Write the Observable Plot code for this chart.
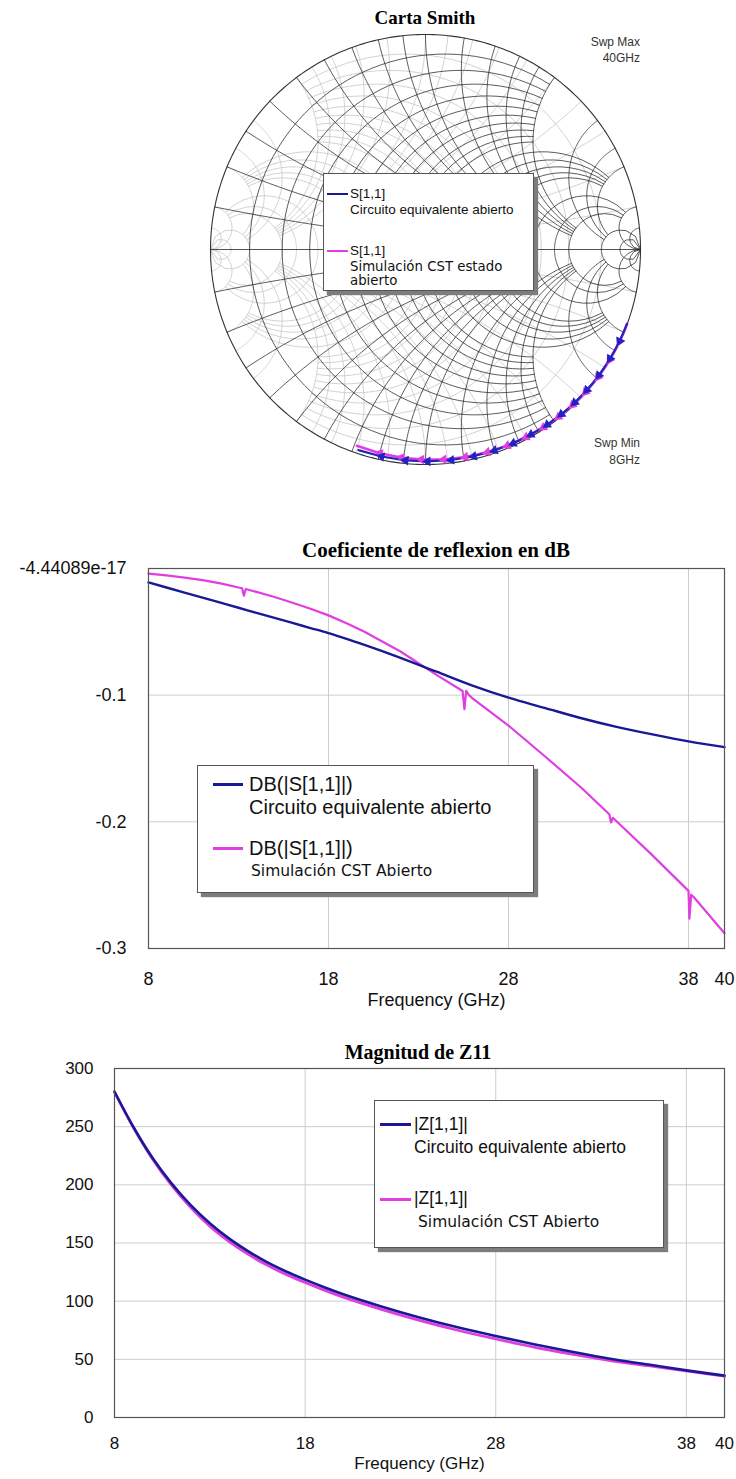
<!DOCTYPE html>
<html>
<head>
<meta charset="utf-8">
<script src="https://cdn.jsdelivr.net/npm/d3@7"></script>
<script src="https://cdn.jsdelivr.net/npm/@observablehq/plot@0.6"></script>
<style>
  html, body { margin: 0; padding: 0; background: #fff; }
  #page { position: relative; width: 736px; height: 1479px; overflow: hidden; background: #fff; }
  .abs { position: absolute; white-space: nowrap; line-height: 1; }
  .legend { position: absolute; background: #fff; border: 1px solid #555; box-shadow: 4px 4px 1px #7d7d7d; }
  .swatch { position: absolute; height: 3px; }
  svg { overflow: visible; }
</style>
</head>
<body>
<div id="page"></div>
<script>
// ---- Sweep data (GHz) --------------------------------------------------
const freqGHz = [8, 9, 10, 11, 12, 13, 14, 15, 16, 17, 18, 19, 20, 22, 24, 26, 28, 30, 32, 34, 36, 38, 40];

// |S11| in dB
const dbCircuito = [-0.011, -0.015, -0.019, -0.023, -0.027, -0.031, -0.035, -0.039, -0.043, -0.047, -0.051, -0.0555, -0.0603,
                    -0.0705, -0.0815, -0.0925, -0.102, -0.110, -0.118, -0.125, -0.131, -0.1365, -0.141];
const dbCST = [-0.004, -0.0055, -0.0072, -0.0092, -0.0118, -0.015, -0.0185, -0.0225, -0.027, -0.0318, -0.037, -0.0432, -0.05,
               -0.0655, -0.084, -0.1025, -0.124, -0.148, -0.1725, -0.1995, -0.2265, -0.2545, -0.288];
// resonance notches in the CST sweep
const notchFreqGHz = [13.2, 13.3, 13.4, 25.45, 25.55, 25.65, 25.8, 33.6, 33.7, 33.8, 37.9, 38.05, 38.15, 38.3];
const notchDb = [-0.0156, -0.0215, -0.0162, -0.0967, -0.111, -0.0965, -0.0999, -0.194, -0.2005, -0.1968, -0.2531, -0.2765, -0.2575, -0.2596];

// |Z11| in ohms
const zCircuito = [280, 249.5, 223, 201, 182.5, 167, 154, 143, 133.5, 125.5, 118.5, 112, 106, 95.5, 86, 77.5, 70, 63, 56.5, 50.5, 45.5, 40.5, 36];
const zCST = [280, 249, 222, 199.5, 180.5, 164.5, 151.5, 140.5, 131, 123, 116, 109.5, 103.5, 93, 83.5, 75, 67.5, 60.5, 54.5, 49, 44.5, 40, 35.5];

// ---- Axes -----------------------------------------------------------------
const freqTicks = [8, 18, 28, 38, 40];
const freqGrid = [18, 28, 38];
const dbTickLabels = ["-4.44089e-17", "-0.1", "-0.2", "-0.3"];
const dbGrid = [-0.1, -0.2];
const zTicks = [0, 50, 100, 150, 200, 250, 300];
const zGrid = [50, 100, 150, 200, 250];

// Smith chart grid values (constant resistance / reactance)
const smithResistances = [0.1, 0.2, 0.3, 0.4, 0.5, 0.6, 0.7, 0.8, 0.9, 1, 1.2, 1.4, 1.6, 1.8, 2, 3, 4, 5, 10, 20];
const smithReactances = [0.1, 0.2, 0.3, 0.4, 0.5, 0.6, 0.7, 0.8, 0.9, 1, 1.2, 1.4, 1.6, 1.8, 2, 3, 4, 5, 10, 20];

const Z0 = 50;
const BLUE = "#191996";
const SMITH_BLUE = "#2222c4";
const MAGENTA = "#e03ee0";
const SANS = "'Liberation Sans', Arial, sans-serif";
const VERDANA = "'DejaVu Sans', Verdana, sans-serif";
const SERIF = "'Liberation Serif', 'Times New Roman', serif";

const page = document.getElementById("page");

function text(str, x, y, opts = {}) {
  const d = document.createElement("div");
  d.className = "abs";
  d.textContent = str;
  const align = opts.align || "left";
  const tx = align === "center" ? "-50%" : align === "right" ? "-100%" : "0";
  d.style.left = x + "px";
  d.style.top = y + "px";
  d.style.transform = `translate(${tx}, -50%)`;
  d.style.fontFamily = opts.font || SANS;
  d.style.fontSize = (opts.size || 14) + "px";
  d.style.fontWeight = opts.weight || "normal";
  d.style.color = opts.color || "#000";
  page.appendChild(d);
  return d;
}

function holder(left, top) {
  const d = document.createElement("div");
  d.style.position = "absolute";
  d.style.left = left + "px";
  d.style.top = top + "px";
  page.appendChild(d);
  return d;
}

function legendBox(left, top, width, height) {
  const d = document.createElement("div");
  d.className = "legend";
  d.style.left = left + "px";
  d.style.top = top + "px";
  d.style.width = width + "px";
  d.style.height = height + "px";
  page.appendChild(d);
}

function swatch(x1, x2, y, color, h = 3) {
  const d = document.createElement("div");
  d.className = "swatch";
  d.style.left = x1 + "px";
  d.style.width = (x2 - x1) + "px";
  d.style.top = (y - h / 2) + "px";
  d.style.height = h + "px";
  d.style.background = color;
  page.appendChild(d);
}

// ---- Smith chart ---------------------------------------------------------
function toGamma(r, x) {
  const d = (r + 1) * (r + 1) + x * x;
  return [(r * r + x * x - 1) / d, 2 * x / d];
}
// how far each grid line runs before it stops on a coarser line
function reach(v) { return v <= 1 ? 2 : v <= 2 ? 5 : v <= 5 ? 10 : 1e4; }

const N = 90;
const impedanceGrid = [];
for (const r of smithResistances) {
  const um = Math.atan(reach(r));
  for (let k = 0; k <= N; k++) {
    const [re, im] = toGamma(r, Math.tan(-um + 2 * um * k / N));
    impedanceGrid.push({id: "r" + r, re, im});
  }
}
for (const xv of smithReactances) {
  for (const s of [1, -1]) {
    const um = Math.atan(reach(xv));
    for (let k = 0; k <= N; k++) {
      const [re, im] = toGamma(Math.tan(um * k / N), s * xv);
      impedanceGrid.push({id: "x" + s * xv, re, im});
    }
  }
}
const admittanceGrid = impedanceGrid.map(p => ({id: p.id, re: -p.re, im: -p.im}));
const rim = d3.range(0, 361, 1).map(a => ({re: Math.cos(a * Math.PI / 180), im: Math.sin(a * Math.PI / 180)}));
const realAxis = [{re: -1, im: 0}, {re: 1, im: 0}];

// reflection coefficient of the open stub: capacitive reactance -|Z11|
function trace(zMag, db) {
  return freqGHz.map((f, i) => {
    const ang = -Math.PI + 2 * Math.atan(zMag[i] / Z0);
    const mag = Math.pow(10, db[i] / 20);
    return {f, re: mag * Math.cos(ang), im: mag * Math.sin(ang)};
  });
}
function arrows(tr) {
  const out = [];
  for (let i = 1; i < tr.length - 1; i++) {
    if (tr[i].f % 2 !== 0) continue;
    const dx = tr[i + 1].re - tr[i - 1].re, dy = tr[i + 1].im - tr[i - 1].im;
    out.push({re: tr[i].re, im: tr[i].im, rot: Math.atan2(dx, dy) * 180 / Math.PI});
  }
  return out;
}
const smithCircuito = trace(zCircuito, dbCircuito);
const smithCST = trace(zCST, dbCST);

const smith = Plot.plot({
  width: 440, height: 440, margin: 5,
  x: {domain: [-1, 1], axis: null, label: null},
  y: {domain: [-1, 1], axis: null, label: null},
  style: {background: "transparent", overflow: "visible"},
  marks: [
    Plot.line(admittanceGrid, {x: "re", y: "im", z: "id", stroke: "#c6c6c6", strokeWidth: 0.8}),
    Plot.line(impedanceGrid, {x: "re", y: "im", z: "id", stroke: "#262626", strokeWidth: 0.75}),
    Plot.line(realAxis, {x: "re", y: "im", stroke: "#262626", strokeWidth: 0.8}),
    Plot.line(rim, {x: "re", y: "im", stroke: "#333", strokeWidth: 1.1}),
    Plot.line(smithCST, {x: "re", y: "im", stroke: MAGENTA, strokeWidth: 2.6}),
    Plot.line(smithCircuito, {x: "re", y: "im", stroke: SMITH_BLUE, strokeWidth: 2.2}),
    Plot.dot(arrows(smithCST), {x: "re", y: "im", rotate: "rot", symbol: "triangle", r: 3.6, fill: MAGENTA, stroke: "none"}),
    Plot.dot(arrows(smithCircuito), {x: "re", y: "im", rotate: "rot", symbol: "triangle", r: 3.6, fill: SMITH_BLUE, stroke: "none"})
  ]
});
holder(205, 29).appendChild(smith);

text("Carta Smith", 425, 17, {font: SERIF, size: 19, weight: "bold", align: "center"});
text("Swp Max", 640, 42, {size: 12, color: "#333", align: "right"});
text("40GHz", 640, 58, {size: 12, color: "#333", align: "right"});
text("Swp Min", 640, 443, {size: 12, color: "#333", align: "right"});
text("8GHz", 640, 460, {size: 12, color: "#333", align: "right"});

legendBox(323, 173, 209, 116);
swatch(327, 348, 194, BLUE, 2.5);
text("S[1,1]", 350, 194, {size: 13.5, color: "#111"});
text("Circuito equivalente abierto", 350, 210, {size: 13.5, color: "#111"});
swatch(327, 348, 251, MAGENTA, 2.5);
text("S[1,1]", 350, 251, {size: 13.5, color: "#111"});
text("Simulación CST estado", 350, 267, {font: VERDANA, size: 13.3, color: "#111"});
text("abierto", 350, 281, {font: VERDANA, size: 13.3, color: "#111"});

// ---- Reflection coefficient in dB ------------------------------------------
const circDbData = freqGHz.map((f, i) => ({f, v: dbCircuito[i]}));
const cstDbData = freqGHz.map((f, i) => ({f, v: dbCST[i]}))
  .concat(notchFreqGHz.map((f, i) => ({f, v: notchDb[i]})))
  .sort((a, b) => a.f - b.f);
const dbTicks = dbTickLabels.map(Number);

const dbPlot = Plot.plot({
  width: 736, height: 28 + 380 + 72,
  marginLeft: 148, marginRight: 12, marginTop: 28, marginBottom: 72,
  style: {fontFamily: SANS, fontSize: "18px", color: "#111", background: "transparent", overflow: "visible"},
  x: {domain: [8, 40], label: null},
  y: {domain: [-0.3, 0], label: null},
  marks: [
    Plot.gridX(freqGrid, {stroke: "#cdcdcd", strokeOpacity: 1}),
    Plot.gridY(dbGrid, {stroke: "#cdcdcd", strokeOpacity: 1}),
    Plot.line(cstDbData, {x: "f", y: "v", stroke: MAGENTA, strokeWidth: 2.2, curve: "linear"}),
    Plot.line(circDbData, {x: "f", y: "v", stroke: BLUE, strokeWidth: 2.4, curve: "monotone-x"}),
    Plot.frame({stroke: "#555", strokeWidth: 1.2}),
    Plot.axisX(freqTicks, {tickSize: 0, tickPadding: 24, fontSize: 18, tickFormat: d => String(d)}),
    Plot.axisY(dbTicks, {tickSize: 0, tickPadding: 22, fontSize: 18, tickFormat: d => dbTickLabels[dbTicks.indexOf(d)]}),
    Plot.text(["Frequency (GHz)"], {frameAnchor: "bottom", dy: 57, fontSize: 18, text: d => d})
  ]
});
holder(0, 540).appendChild(dbPlot);

text("Coeficiente de reflexion en dB", 436, 550, {font: SERIF, size: 21, weight: "bold", align: "center"});

legendBox(197, 765, 335, 126);
swatch(213, 243, 784, BLUE);
text("DB(|S[1,1]|)", 249, 784, {size: 20, color: "#111"});
text("Circuito equivalente abierto", 249, 807, {size: 20, color: "#111"});
swatch(213, 243, 848, MAGENTA);
text("DB(|S[1,1]|)", 249, 848, {size: 20, color: "#111"});
text("Simulación CST Abierto", 251, 872, {font: VERDANA, size: 15.5, color: "#111"});

// ---- |Z11| magnitude -------------------------------------------------------
const circZData = freqGHz.map((f, i) => ({f, v: zCircuito[i]}));
const cstZData = freqGHz.map((f, i) => ({f, v: zCST[i]}));

const zPlot = Plot.plot({
  width: 736, height: 28 + 349 + 62,
  marginLeft: 114, marginRight: 12, marginTop: 28, marginBottom: 62,
  style: {fontFamily: SANS, fontSize: "17px", color: "#111", background: "transparent", overflow: "visible"},
  x: {domain: [8, 40], label: null},
  y: {domain: [0, 300], label: null},
  marks: [
    Plot.gridX(freqGrid, {stroke: "#cdcdcd", strokeOpacity: 1}),
    Plot.gridY(zGrid, {stroke: "#cdcdcd", strokeOpacity: 1}),
    Plot.line(cstZData, {x: "f", y: "v", stroke: MAGENTA, strokeWidth: 2.8, curve: "monotone-x"}),
    Plot.line(circZData, {x: "f", y: "v", stroke: BLUE, strokeWidth: 2.6, curve: "monotone-x"}),
    Plot.frame({stroke: "#555", strokeWidth: 1.2}),
    Plot.axisX(freqTicks, {tickSize: 0, tickPadding: 19, fontSize: 17, tickFormat: d => String(d)}),
    Plot.axisY(zTicks, {tickSize: 0, tickPadding: 21, fontSize: 17, tickFormat: d => String(d)}),
    Plot.text(["Frequency (GHz)"], {frameAnchor: "bottom", dy: 51, fontSize: 17, text: d => d})
  ]
});
holder(0, 1040).appendChild(zPlot);

text("Magnitud de Z11", 418, 1052, {font: SERIF, size: 20, weight: "bold", align: "center"});

legendBox(374, 1100, 288, 146);
swatch(380, 411, 1124, BLUE);
text("|Z[1,1]|", 414, 1125, {size: 17.5, color: "#111"});
text("Circuito equivalente abierto", 414, 1148, {size: 17.5, color: "#111"});
swatch(380, 411, 1199, MAGENTA);
text("|Z[1,1]|", 414, 1199, {size: 17.5, color: "#111"});
text("Simulación CST Abierto", 418, 1223, {font: VERDANA, size: 15.5, color: "#111"});
</script>
</body>
</html>
